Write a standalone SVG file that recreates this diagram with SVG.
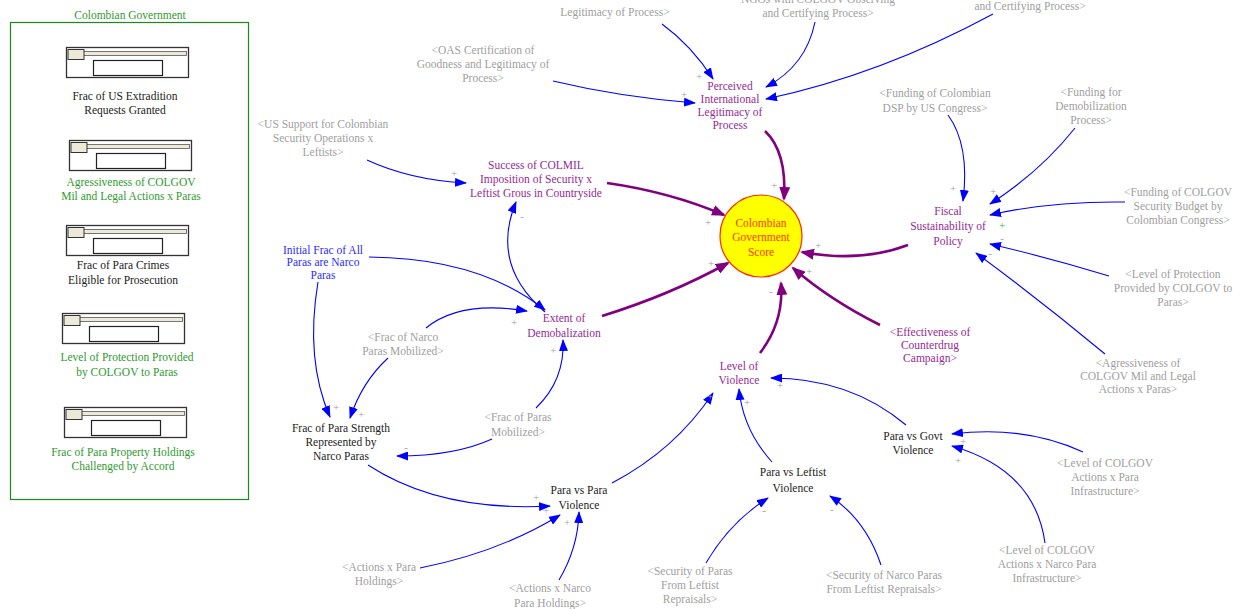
<svg xmlns="http://www.w3.org/2000/svg" width="1241" height="609" viewBox="0 0 1241 609">
<style>
text{font-family:"Liberation Serif","Times New Roman",serif;font-size:11.5px;text-anchor:middle}
.g{fill:#a0a0a0}.p{fill:#952a95}.k{fill:#222}.gr{fill:#2f9a2f}.b{fill:#2b2bff}
.pol{font-size:11px;fill:#a0a0a0}
.bl{fill:none;stroke:#0000ff;stroke-width:1.1}
.pu{fill:none;stroke:#800080;stroke-width:2.6}
.out{fill:#fff;stroke:#333;stroke-width:1.3}
.knob{fill:#ece9d8;stroke:#333;stroke-width:1}
.trk{fill:#ece9d8;stroke:#555;stroke-width:0.8}
.box{fill:#fff;stroke:#222;stroke-width:1.2}
</style>
<defs>
<marker id="ab" markerUnits="userSpaceOnUse" viewBox="0 0 12 9" markerWidth="12" markerHeight="9" refX="11" refY="4.5" orient="auto"><path d="M0,0 L12,4.5 L0,9 z" fill="#0000ff"/></marker>
<marker id="ap" markerUnits="userSpaceOnUse" viewBox="0 0 14 11" markerWidth="14" markerHeight="11" refX="12" refY="5.5" orient="auto"><path d="M0,0 L14,5.5 L0,11 z" fill="#800080"/></marker>
<g id="slider"><rect class="out" x="0" y="0" width="122" height="30"/><rect class="trk" x="17" y="4" width="103" height="4"/><rect class="knob" x="1.5" y="2" width="16" height="10"/><rect class="box" x="27" y="13" width="69" height="15"/></g>
</defs>
<rect width="1241" height="609" fill="#fff"/>

<g id="panel">
<rect x="10.5" y="22.5" width="238" height="477" fill="none" stroke="#1a8a1a" stroke-width="1.2"/>
<text class="gr" x="130" y="19">Colombian Government</text>
<use href="#slider" x="66.5" y="47.5"/>
<text class="k" x="125" y="100">Frac of US Extradition</text><text class="k" x="125" y="114">Requests Granted</text>
<use href="#slider" x="69.5" y="140.5"/>
<text class="gr" x="131" y="186">Agressiveness of COLGOV</text><text class="gr" x="131" y="200">Mil and Legal Actions x Paras</text>
<use href="#slider" x="66.5" y="225.5"/>
<text class="k" x="123" y="269">Frac of Para Crimes</text><text class="k" x="123" y="284">Eligible for Prosecution</text>
<use href="#slider" x="62.5" y="313.5"/>
<text class="gr" x="127" y="361">Level of Protection Provided</text><text class="gr" x="127" y="376">by COLGOV to Paras</text>
<use href="#slider" x="64.5" y="407.5"/>
<text class="gr" x="123" y="456">Frac of Para Property Holdings</text><text class="gr" x="123" y="470">Challenged by Accord</text>
</g>

<g id="connectors">
<path class="bl" d="M662,24 Q692,46 713,79" marker-end="url(#ab)"/>
<path class="bl" d="M815,22 Q806,66 766,87" marker-end="url(#ab)"/>
<path class="bl" d="M993,14 Q880,75 766,99" marker-end="url(#ab)"/>
<path class="bl" d="M553,81 Q620,97 695,103" marker-end="url(#ab)"/>
<path class="pu" d="M765,131 Q787,152 784,199" marker-end="url(#ap)"/>
<path class="bl" d="M367,160 Q410,180 466,183" marker-end="url(#ab)"/>
<path class="pu" d="M607,183 Q670,192 724,215" marker-end="url(#ap)"/>
<path class="bl" d="M369,257 Q480,258 545,310" marker-end="url(#ab)"/>
<path class="bl" d="M318,282 Q305,360 330,417" marker-end="url(#ab)"/>
<path class="bl" d="M545,312 Q490,265 516,202" marker-end="url(#ab)"/>
<path class="pu" d="M602,316 Q670,295 728,263" marker-end="url(#ap)"/>
<path class="bl" d="M426,328 Q460,300 527,311" marker-end="url(#ab)"/>
<path class="bl" d="M388,358 Q362,382 350,418" marker-end="url(#ab)"/>
<path class="bl" d="M536,408 Q565,380 563,340" marker-end="url(#ab)"/>
<path class="bl" d="M492,439 Q455,456 397,456" marker-end="url(#ab)"/>
<path class="bl" d="M368,465 Q440,512 550,506" marker-end="url(#ab)"/>
<path class="bl" d="M612,483 Q675,450 713,393" marker-end="url(#ab)"/>
<path class="bl" d="M420,568 Q500,552 560,515" marker-end="url(#ab)"/>
<path class="bl" d="M559,580 Q578,548 579,512" marker-end="url(#ab)"/>
<path class="pu" d="M760,353 Q784,322 781,283" marker-end="url(#ap)"/>
<path class="pu" d="M880,325 Q830,300 793,268" marker-end="url(#ap)"/>
<path class="bl" d="M772,462 Q743,430 739,389" marker-end="url(#ab)"/>
<path class="bl" d="M906,425 Q850,378 771,378" marker-end="url(#ab)"/>
<path class="bl" d="M706,563 Q730,522 768,498" marker-end="url(#ab)"/>
<path class="bl" d="M881,565 Q866,520 830,496" marker-end="url(#ab)"/>
<path class="bl" d="M1083,452 Q1025,425 952,434" marker-end="url(#ab)"/>
<path class="bl" d="M1045,543 Q1035,470 952,446" marker-end="url(#ab)"/>
<path class="pu" d="M908,245 Q860,263 802,252" marker-end="url(#ap)"/>
<path class="bl" d="M948,115 Q970,145 963,201" marker-end="url(#ab)"/>
<path class="bl" d="M1075,128 Q1040,172 990,204" marker-end="url(#ab)"/>
<path class="bl" d="M1125,202 Q1050,201 990,215" marker-end="url(#ab)"/>
<path class="bl" d="M1109,276 Q1050,258 990,244" marker-end="url(#ab)"/>
<path class="bl" d="M1105,354 Q1040,300 976,253" marker-end="url(#ab)"/>
<text class="pol" x="699" y="80">+</text>
<text class="pol" x="684" y="98">+</text>
<text class="pol" x="774" y="189">+</text>
<text class="pol" x="454" y="177">+</text>
<text class="pol" x="708" y="226">+</text>
<text class="pol" x="522" y="220">-</text>
<text class="pol" x="336" y="411">+</text>
<text class="pol" x="361" y="418">+</text>
<text class="pol" x="514" y="326">+</text>
<text class="pol" x="553" y="354">+</text>
<text class="pol" x="406" y="451">-</text>
<text class="pol" x="711" y="267">+</text>
<text class="pol" x="536" y="501">+</text>
<text class="pol" x="546" y="514">+</text>
<text class="pol" x="567" y="526">+</text>
<text class="pol" x="771" y="295">-</text>
<text class="pol" x="809" y="275">+</text>
<text class="pol" x="818" y="249">+</text>
<text class="pol" x="710" y="400">+</text>
<text class="pol" x="747" y="406">+</text>
<text class="pol" x="780" y="389">+</text>
<text class="pol" x="764" y="514">-</text>
<text class="pol" x="832" y="513">-</text>
<text class="pol" x="963" y="445">+</text>
<text class="pol" x="958" y="464">+</text>
<text class="pol" x="953" y="192">+</text>
<text class="pol" x="993" y="195">+</text>
<text class="pol" x="1002" y="229" fill="#33aa33" style="fill:#33aa33">+</text>
<text class="pol" x="1002" y="242">-</text>
<text class="pol" x="990" y="257">-</text>
</g>

<g id="score"><circle cx="761" cy="236" r="41" fill="#ffff00" stroke="#ff2a00" stroke-width="1.2"/>
<text x="761" y="227" fill="#ff3a00">Colombian</text><text x="761" y="241" fill="#ff3a00">Government</text><text x="761" y="256" fill="#ff3a00">Score</text></g>
<g id="perceived"><text class="p" x="730" y="90">Perceived</text><text class="p" x="730" y="103">International</text><text class="p" x="730" y="116">Legitimacy of</text><text class="p" x="730" y="129">Process</text></g>
<g id="legit_top"><text class="g" x="615" y="16">Legitimacy of Process&gt;</text></g>
<g id="ngos"><text class="g" x="818" y="3">NGOs with COLGOV Observing</text><text class="g" x="818" y="17">and Certifying Process&gt;</text></g>
<g id="right_cert"><text class="g" x="1030" y="10">and Certifying Process&gt;</text></g>
<g id="oas"><text class="g" x="483" y="54">&lt;OAS Certification of</text><text class="g" x="483" y="68">Goodness and Legitimacy of</text><text class="g" x="483" y="82">Process&gt;</text></g>
<g id="us_support"><text class="g" x="323" y="128">&lt;US Support for Colombian</text><text class="g" x="323" y="142">Security Operations x</text><text class="g" x="323" y="156">Leftists&gt;</text></g>
<g id="success"><text class="p" x="536" y="169">Success of COLMIL</text><text class="p" x="536" y="183">Imposition of Security x</text><text class="p" x="536" y="197">Leftist Grous in Countryside</text></g>
<g id="initial"><text class="b" x="323" y="254">Initial Frac of All</text><text class="b" x="323" y="266">Paras are Narco</text><text class="b" x="323" y="279">Paras</text></g>
<g id="extent"><text class="p" x="564" y="322">Extent of</text><text class="p" x="564" y="337">Demobalization</text></g>
<g id="narco_mob"><text class="g" x="403" y="341">&lt;Frac of Narco</text><text class="g" x="403" y="355">Paras Mobilized&gt;</text></g>
<g id="paras_mob"><text class="g" x="518" y="421">&lt;Frac of Paras</text><text class="g" x="518" y="436">Mobilized&gt;</text></g>
<g id="frac_strength"><text class="k" x="341" y="432">Frac of Para Strength</text><text class="k" x="341" y="446">Represented by</text><text class="k" x="341" y="460">Narco Paras</text></g>
<g id="pvp"><text class="k" x="579" y="494">Para vs Para</text><text class="k" x="579" y="509">Violence</text></g>
<g id="actions_para"><text class="g" x="379" y="571">&lt;Actions x Para</text><text class="g" x="379" y="585">Holdings&gt;</text></g>
<g id="actions_narco"><text class="g" x="550" y="592">&lt;Actions x Narco</text><text class="g" x="550" y="607">Para Holdings&gt;</text></g>
<g id="level_violence"><text class="p" x="739" y="370">Level of</text><text class="p" x="739" y="384">Violence</text></g>
<g id="effectiveness"><text class="p" x="930" y="336">&lt;Effectiveness of</text><text class="p" x="930" y="349">Counterdrug</text><text class="p" x="930" y="362">Campaign&gt;</text></g>
<g id="pvl"><text class="k" x="793" y="476">Para vs Leftist</text><text class="k" x="793" y="492">Violence</text></g>
<g id="pvg"><text class="k" x="913" y="440">Para vs Govt</text><text class="k" x="913" y="454">Violence</text></g>
<g id="sec_paras"><text class="g" x="690" y="575">&lt;Security of Paras</text><text class="g" x="690" y="589">From Leftist</text><text class="g" x="690" y="603">Repraisals&gt;</text></g>
<g id="sec_narco"><text class="g" x="884" y="579">&lt;Security of Narco Paras</text><text class="g" x="884" y="593">From Leftist Repraisals&gt;</text></g>
<g id="lvl_para_infra"><text class="g" x="1105" y="467">&lt;Level of COLGOV</text><text class="g" x="1105" y="481">Actions x Para</text><text class="g" x="1105" y="495">Infrastructure&gt;</text></g>
<g id="lvl_narco_infra"><text class="g" x="1047" y="554">&lt;Level of COLGOV</text><text class="g" x="1047" y="568">Actions x Narco Para</text><text class="g" x="1047" y="582">Infrastructure&gt;</text></g>
<g id="fiscal"><text class="p" x="948" y="215">Fiscal</text><text class="p" x="948" y="230">Sustainability of</text><text class="p" x="948" y="245">Policy</text></g>
<g id="fund_dsp"><text class="g" x="935" y="97">&lt;Funding of Colombian</text><text class="g" x="935" y="112">DSP by US Congress&gt;</text></g>
<g id="fund_demob"><text class="g" x="1091" y="96">&lt;Funding for</text><text class="g" x="1091" y="110">Demobilization</text><text class="g" x="1091" y="124">Process&gt;</text></g>
<g id="fund_budget"><text class="g" x="1178" y="196">&lt;Funding of COLGOV</text><text class="g" x="1178" y="210">Security Budget by</text><text class="g" x="1178" y="224">Colombian Congress&gt;</text></g>
<g id="lvl_prot"><text class="g" x="1173" y="278">&lt;Level of Protection</text><text class="g" x="1173" y="292">Provided by COLGOV to</text><text class="g" x="1173" y="306">Paras&gt;</text></g>
<g id="aggr"><text class="g" x="1138" y="367">&lt;Agressiveness of</text><text class="g" x="1138" y="380">COLGOV Mil and Legal</text><text class="g" x="1138" y="393">Actions x Paras&gt;</text></g>
</svg>
